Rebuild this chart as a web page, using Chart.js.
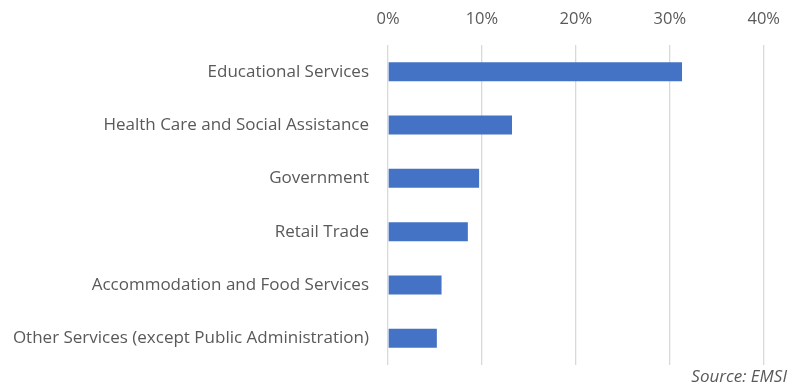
<!DOCTYPE html>
<html>
<head>
<meta charset="utf-8">
<script src="https://cdn.jsdelivr.net/npm/chart.js@4"></script>
<style>
  html, body { margin: 0; padding: 0; background: #fff; }
  #wrap { width: 796px; height: 385px; }
</style>
</head>
<body>
<div id="wrap"><canvas id="c"></canvas></div>
<script>
// Share of employment by industry
const industries = [
  'Educational Services',
  'Health Care and Social Assistance',
  'Government',
  'Retail Trade',
  'Accommodation and Food Services',
  'Other Services (except Public Administration)'
];
const shares = [31.3, 13.2, 9.7, 8.5, 5.7, 5.2];
const tickValues = [0, 10, 20, 30, 40];
const sourceNote = 'Source: EMSI';

const FONT = '"Open Sans", "Noto Sans", sans-serif';
const TEXT = '#595959';

// Source line in the bottom-right corner of the canvas
const sourcePlugin = {
  id: 'sourceNote',
  afterDraw(chart) {
    const ctx = chart.ctx;
    ctx.save();
    ctx.font = 'italic 17px ' + FONT;
    ctx.fillStyle = TEXT;
    ctx.textAlign = 'right';
    ctx.textBaseline = 'middle';
    ctx.fillText(sourceNote, chart.width - 9, 377);
    ctx.restore();
  }
};

new Chart(document.getElementById('c'), {
  type: 'bar',
  data: {
    labels: industries,
    datasets: [{
      data: shares,
      backgroundColor: '#4472C4',
      borderWidth: 0,
      barPercentage: 0.356,
      categoryPercentage: 1.0
    }]
  },
  options: {
    indexAxis: 'y',
    responsive: true,
    maintainAspectRatio: false,
    animation: false,
    devicePixelRatio: 1,
    layout: { padding: { left: 0, right: 32, top: 0, bottom: 20 } },
    plugins: {
      legend: { display: false },
      tooltip: { enabled: false }
    },
    scales: {
      x: {
        position: 'top',
        min: 0,
        max: 40,
        afterBuildTicks: (scale) => { scale.ticks = tickValues.map(v => ({ value: v })); },
        afterFit: (scale) => { scale.height = 45; },
        ticks: {
          color: TEXT,
          font: { family: FONT, size: 16.5 },
          padding: 16,
          maxRotation: 0,
          callback: (v) => v + '%'
        },
        grid: { color: '#d9d9d9', lineWidth: 1.3, drawTicks: false },
        border: { display: false }
      },
      y: {
        afterFit: (scale) => {
          scale.width = 388;
          scale.paddingTop = 0;
          scale.paddingBottom = 0;
        },
        ticks: {
          color: TEXT,
          font: { family: FONT, size: 17 },
          padding: 19,
          autoSkip: false
        },
        grid: { display: false, drawTicks: false },
        border: { display: false }
      }
    }
  },
  plugins: [sourcePlugin]
});
</script>
</body>
</html>
